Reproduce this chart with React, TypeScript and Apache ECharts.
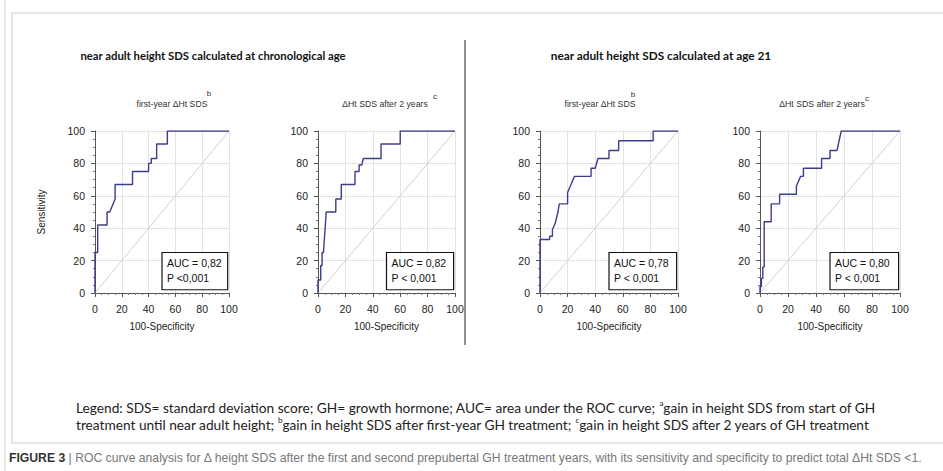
import React, { useEffect, useRef } from "react";
import * as echarts from "echarts";

// ROC curves: [100-Specificity, Sensitivity]
const roc1 = [[0,0],[0,25],[2,25],[2,42],[9,42],[9,50],[11,50],[13,54],[15,58],[15,67],[28,67],[28,75],[40,75],[40,80],[42,80],[42,83],[46,83],[46,92],[54,92],[54,100],[100,100]];
const roc2 = [[0,0],[0,8],[2,8],[2,17],[3,17],[3,25],[4,25],[6,50],[13,50],[13,58],[17,58],[17,67],[27,67],[27,75],[30,75],[30,79],[32,79],[33,83],[46,83],[46,92],[60,92],[60,100],[100,100]];
const roc3 = [[0,0],[0,33],[7,33],[7,35],[9,35],[9,39],[11,43],[13,50],[14,55],[20,55],[20,62],[22,66],[25,72],[37,72],[37,77],[40,77],[42,83],[50,83],[50,88],[57,88],[57,94],[82,94],[82,100],[100,100]];
const roc4 = [[0,0],[0,4],[1,4],[1,9],[2,9],[2,16],[3,16],[3,44],[8,44],[8,55],[14,55],[14,61],[26,61],[26,66],[29,72],[31,72],[31,77],[44,77],[44,83],[50,83],[50,88],[55,88],[58,100],[100,100]];
const rocCurves = [roc1, roc2, roc3, roc4];
const diagonal = [[0,0],[100,100]];

const aucTexts = ["AUC = 0,82", "AUC = 0,82", "AUC = 0,78", "AUC = 0,80"];
const pTexts = ["P <0,001", "P < 0,001", "P < 0,001", "P < 0,001"];
const subtitles = ["first-year \u0394Ht SDS", "\u0394Ht SDS after 2 years", "first-year \u0394Ht SDS", "\u0394Ht SDS after 2 years"];
const superscripts = ["b", "c", "b", "c"];
const groupTitles = ["near adult height SDS calculated at chronological age", "near adult height SDS calculated at age 21"];
const xAxisTitle = "100-Specificity";
const yAxisTitle = "Sensitivity";
const legendLine1 = "Legend: SDS= standard deviation score; GH= growth hormone; AUC= area under the ROC curve; {s|a}gain in height SDS from start of GH";
const legendLine2 = "treatment until near adult height; {s|b}gain in height SDS after first-year GH treatment; {s|c}gain in height SDS after 2 years of GH treatment";
const captionText = "{b|FIGURE 3} | ROC curve analysis for \u0394 height SDS after the first and second prepubertal GH treatment years, with its sensitivity and specificity to predict total \u0394Ht SDS <1.";

// layout
const gridLefts = [95, 318, 540, 760];
const gridWidths = [134, 137, 138, 140];
const gridTop = 131;
const gridHeight = 162;
const subtitleCenters = [172, 385, 600, 822];
const aucBoxFrom = [50, 25];
const aucBoxTo = [99, 2];

const plotFont = "Liberation Sans";
const titleFont = "Lato";

export default function App() {
  const ref = useRef<HTMLDivElement>(null);
  useEffect(() => {
    document.body.style.margin = "0";
    const chart = echarts.init(ref.current!, null, { renderer: "svg" });
    const axisCommon = {
      type: "value",
      min: 0,
      max: 100,
      interval: 20,
      offset: 6,
      axisLine: { show: true, lineStyle: { color: "#555", width: 1 } },
      axisTick: { show: true, length: 4, lineStyle: { color: "#555" } },
      minorTick: { show: true, splitNumber: 4, length: 2, lineStyle: { color: "#777" } },
      axisLabel: { fontFamily: plotFont, fontSize: 10.5, color: "#222", margin: 4 },
      splitLine: { show: true, lineStyle: { color: "#e3e3e3", width: 1 } },
      nameTextStyle: { fontFamily: plotFont, fontSize: 10, color: "#222" },
    };
    const grids = gridLefts.map((l, i) => ({ left: l, top: gridTop, width: gridWidths[i], height: gridHeight }));
    const xAxes = gridLefts.map((_, i) => ({
      ...axisCommon,
      gridIndex: i,
      name: xAxisTitle,
      nameLocation: "middle",
      nameGap: 22,
    }));
    const yAxes = gridLefts.map((_, i) => ({
      ...axisCommon,
      gridIndex: i,
      name: i === 0 ? yAxisTitle : "",
      nameLocation: "middle",
      nameGap: 43,
      nameRotate: 90,
    }));
    const series: any[] = [];
    rocCurves.forEach((d, i) => {
      series.push({
        type: "line",
        xAxisIndex: i,
        yAxisIndex: i,
        data: diagonal,
        symbol: "none",
        silent: true,
        lineStyle: { color: "#e2c9ce", width: 1 },
      });
      series.push({
        type: "line",
        xAxisIndex: i,
        yAxisIndex: i,
        data: d,
        symbol: "none",
        lineStyle: { color: "#3a3e8c", width: 1.4 },
      });
    });
    chart.setOption({
      animation: false,
      backgroundColor: "#ffffff",
      grid: grids,
      xAxis: xAxes,
      yAxis: yAxes,
      series,
    });

    const g: any[] = [];
    // figure frame
    g.push({ type: "line", shape: { x1: 5, y1: 0, x2: 5, y2: 471 }, style: { stroke: "#e2e2e2", lineWidth: 1.5 } });
    g.push({ type: "rect", shape: { x: 12, y: 13, width: 960, height: 430 }, style: { stroke: "#e6e6e6", lineWidth: 2, fill: "transparent" } });
    // divider
    g.push({ type: "line", shape: { x1: 465, y1: 40, x2: 465, y2: 345 }, style: { stroke: "#222", lineWidth: 1 } });
    // group titles
    g.push({ type: "text", x: 213, y: 55, style: { text: groupTitles[0], font: `bold 11.3px ${titleFont}`, fill: "#111", align: "center", verticalAlign: "middle" } });
    g.push({ type: "text", x: 661, y: 55, style: { text: groupTitles[1], font: `bold 11.8px ${titleFont}`, fill: "#111", align: "center", verticalAlign: "middle" } });
    // subtitles
    subtitles.forEach((s, i) => {
      g.push({ type: "text", x: subtitleCenters[i], y: 104, style: { text: s, font: `8.7px ${plotFont}`, fill: "#333", align: "center", verticalAlign: "middle" } });
    });
    const supPos = [[209, 93], [435, 96], [633, 94], [867, 98]];
    supPos.forEach((p, i) => {
      g.push({ type: "text", x: p[0], y: p[1], style: { text: superscripts[i], font: `8px ${plotFont}`, fill: "#333", align: "center", verticalAlign: "middle" } });
    });
    // AUC boxes
    rocCurves.forEach((_, i) => {
      const a = chart.convertToPixel({ gridIndex: i }, aucBoxFrom) as number[];
      const b = chart.convertToPixel({ gridIndex: i }, aucBoxTo) as number[];
      g.push({ type: "rect", shape: { x: a[0], y: a[1], width: b[0] - a[0], height: b[1] - a[1] }, style: { stroke: "#111", lineWidth: 1.2, fill: "#fff" } });
      g.push({ type: "text", x: a[0] + 5, y: a[1] + 10, style: { text: aucTexts[i], font: `10.5px ${plotFont}`, fill: "#111", verticalAlign: "middle" } });
      g.push({ type: "text", x: a[0] + 5, y: a[1] + 25, style: { text: pTexts[i], font: `10.5px ${plotFont}`, fill: "#111", verticalAlign: "middle" } });
    });
    // legend (one text block, two lines)
    const rich = { s: { fontSize: 8, fontFamily: titleFont, fill: "#222", verticalAlign: "top", lineHeight: 17 } };
    g.push({ type: "text", x: 76, y: 399, style: { text: legendLine1 + "\n" + legendLine2, rich, fontFamily: titleFont, fontSize: 13.7, fill: "#222", lineHeight: 17 } });
    // caption
    g.push({ type: "text", x: 9, y: 458, style: { text: captionText, rich: { b: { fontWeight: "bold", fontFamily: plotFont, fontSize: 12.2, fill: "#333" } }, fontFamily: plotFont, fontSize: 12.2, fill: "#777", verticalAlign: "middle" } });

    chart.setOption({ graphic: g });
    return () => chart.dispose();
  }, []);
  return <div ref={ref} style={{ width: 943, height: 471 }} />;
}
